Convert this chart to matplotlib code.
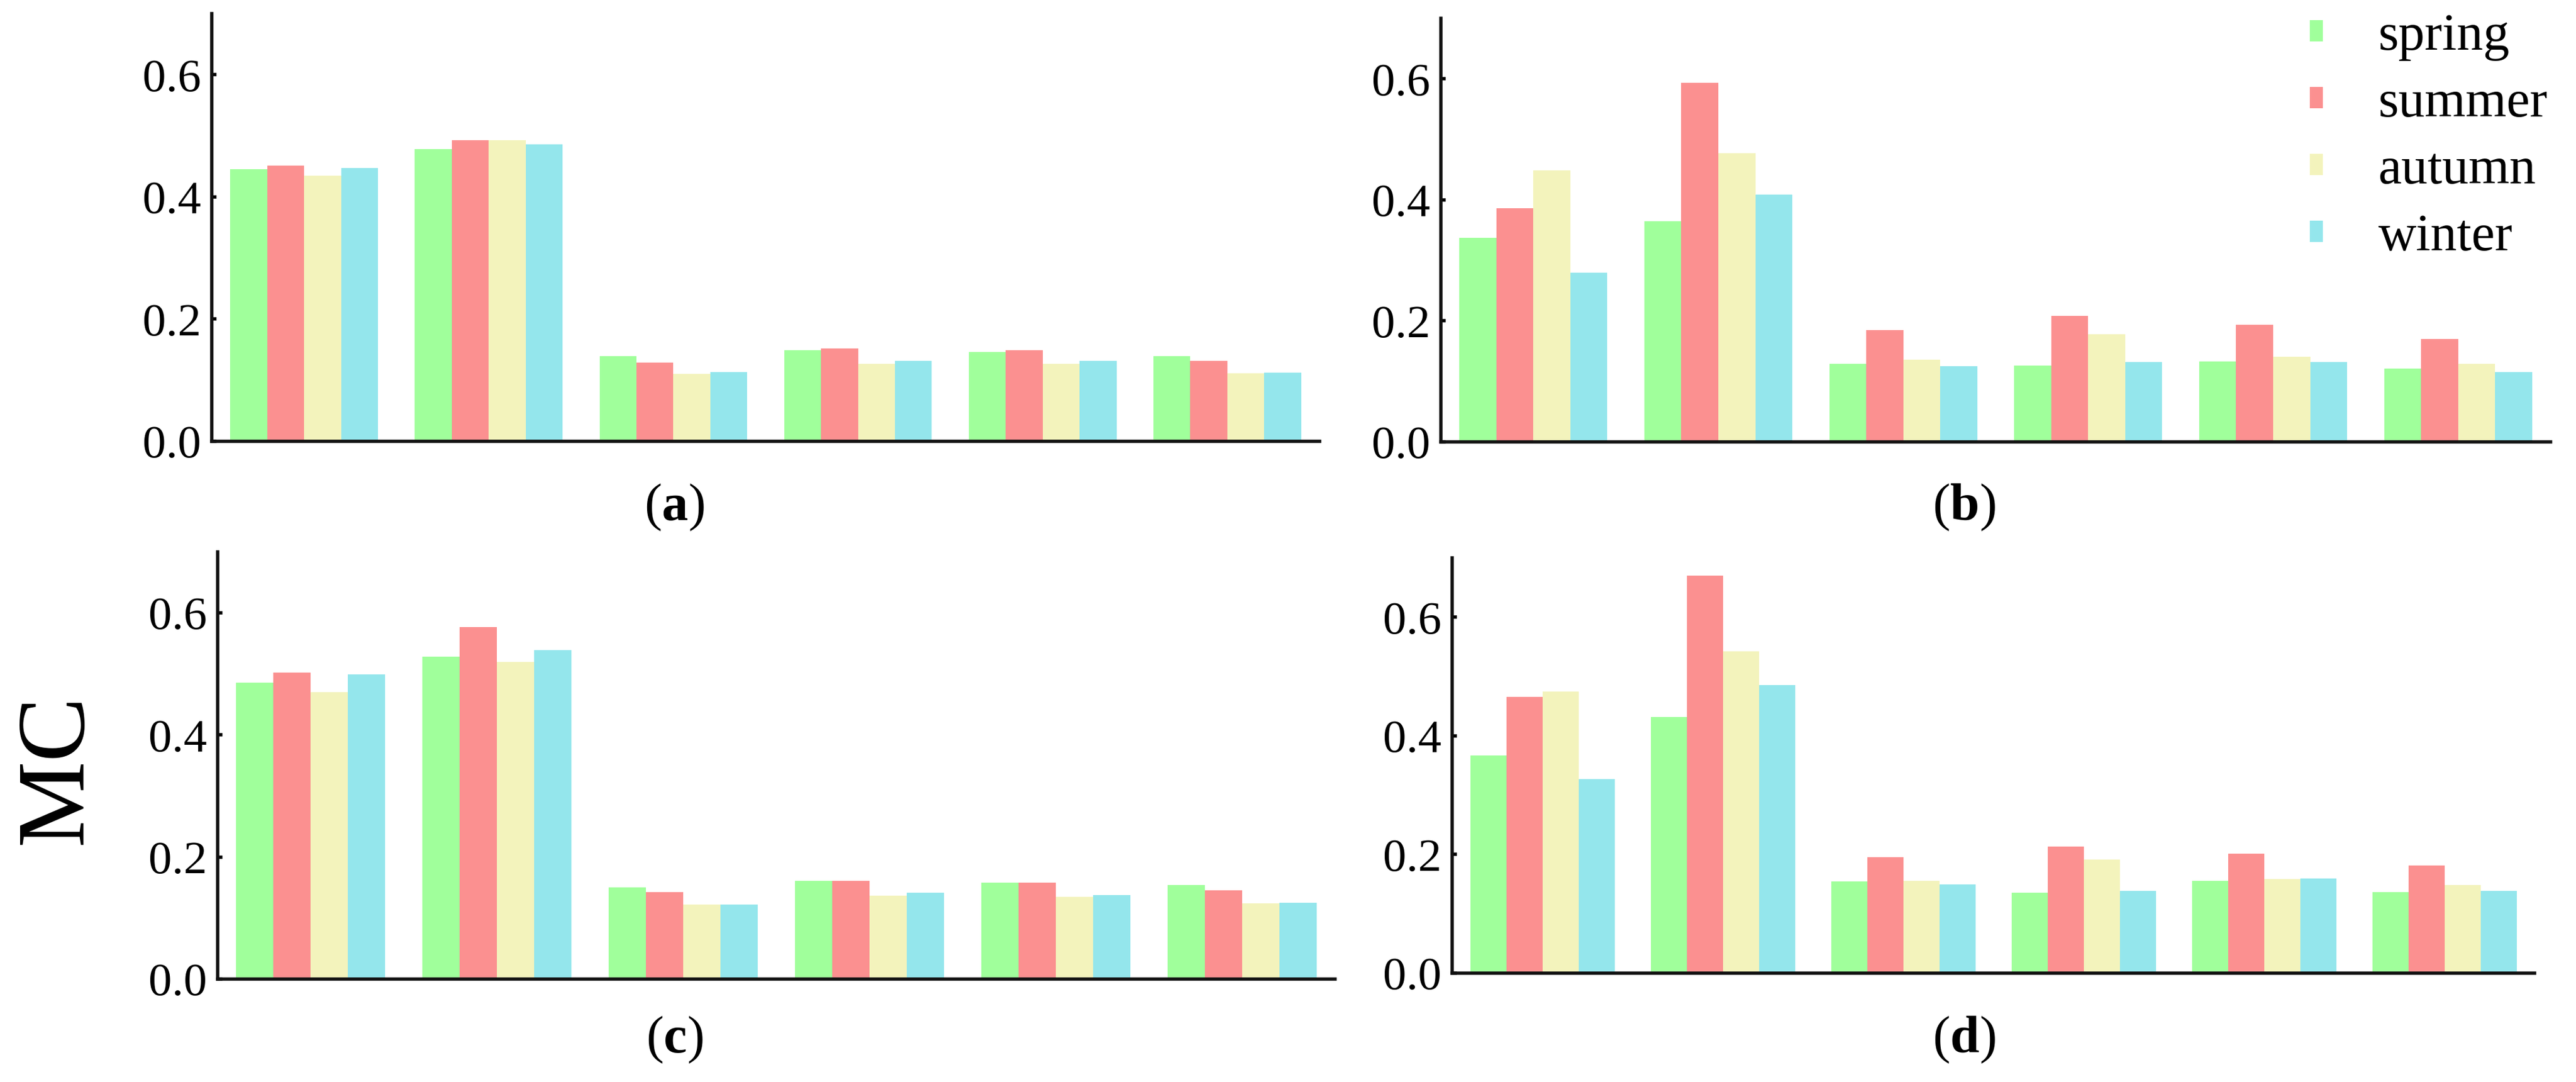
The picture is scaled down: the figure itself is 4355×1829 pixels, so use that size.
import matplotlib
matplotlib.use("Agg")
import matplotlib.pyplot as plt
import numpy as np

plt.rcParams['font.family'] = ['Liberation Serif', 'DejaVu Serif']
plt.rcParams['mathtext.fontset'] = 'custom'
plt.rcParams['mathtext.rm'] = 'Liberation Serif'
plt.rcParams['mathtext.bf'] = 'Liberation Serif:bold'

seasons = ["spring", "summer", "autumn", "winter"]
colors = ["#A0FF9B", "#FB9090", "#F3F3BC", "#94E6EC"]
n_groups = 6

# values per panel: rows = seasons, columns = groups
panel_a = {
    "spring": [0.445, 0.478, 0.139, 0.149, 0.146, 0.139],
    "summer": [0.451, 0.493, 0.129, 0.152, 0.149, 0.132],
    "autumn": [0.435, 0.493, 0.110, 0.127, 0.127, 0.111],
    "winter": [0.447, 0.486, 0.113, 0.132, 0.132, 0.112],
}
panel_b = {
    "spring": [0.337, 0.365, 0.129, 0.126, 0.133, 0.121],
    "summer": [0.386, 0.593, 0.185, 0.208, 0.194, 0.170],
    "autumn": [0.449, 0.477, 0.136, 0.178, 0.141, 0.129],
    "winter": [0.280, 0.409, 0.125, 0.132, 0.132, 0.115],
}
panel_c = {
    "spring": [0.486, 0.528, 0.150, 0.161, 0.158, 0.154],
    "summer": [0.502, 0.577, 0.143, 0.161, 0.158, 0.145],
    "autumn": [0.470, 0.520, 0.122, 0.137, 0.135, 0.124],
    "winter": [0.499, 0.539, 0.122, 0.142, 0.138, 0.125],
}
panel_d = {
    "spring": [0.367, 0.432, 0.155, 0.136, 0.156, 0.137],
    "summer": [0.466, 0.670, 0.195, 0.213, 0.201, 0.181],
    "autumn": [0.475, 0.542, 0.156, 0.191, 0.159, 0.149],
    "winter": [0.327, 0.486, 0.150, 0.139, 0.160, 0.139],
}
panel_labels = ["a", "b", "c", "d"]
yticks = [0.0, 0.2, 0.4, 0.6]
y_label = "MC"

W, H = 4355, 1829
fig = plt.figure(figsize=(W / 100, H / 100), dpi=100)

# axes rectangles in pixels: (left, right, top, bottom)
rects = [
    (358, 2231, 23, 746),
    (2436, 4312, 31, 747),
    (368, 2257, 933, 1655),
    (2455, 4285, 943, 1645),
]
label_pos = [(1140, 858), (3320, 858), (1140, 1758), (3320, 1758)]

panels = [panel_a, panel_b, panel_c, panel_d]
axes = []
x = np.arange(n_groups)
bw = 0.2
for i, (data, (l, r, t, b)) in enumerate(zip(panels, rects)):
    ax = fig.add_axes([l / W, 1 - b / H, (r - l) / W, (b - t) / H])
    axes.append(ax)
    for k, s in enumerate(seasons):
        ax.bar(x + (k - 1.5) * bw, data[s], width=bw, color=colors[k],
               edgecolor='none', linewidth=0, label=s)
    ax.set_xlim(-0.5, n_groups - 0.5)
    ax.set_ylim(0, 0.7)
    ax.set_yticks(yticks)
    ax.set_yticklabels([f"{v:.1f}" for v in yticks])
    ax.set_xticks([])
    for sp in ["top", "right"]:
        ax.spines[sp].set_visible(False)
    for sp in ["left", "bottom"]:
        ax.spines[sp].set_linewidth(4)
        ax.spines[sp].set_color("#111111")
    ax.tick_params(axis='y', direction='in', length=6, width=4,
                   labelsize=57, pad=13)
    lx, ly = label_pos[i]
    fig.text(lx / W, 1 - ly / H, r"($\mathbf{%s}$)" % panel_labels[i],
             ha='center', va='center', fontsize=64)

# shared y label "MC" placed left of panel (c)
fig.text(98 / W, 1 - 1300 / H, y_label, rotation=90, ha='center',
         va='center', fontsize=118)

handles, labels = axes[1].get_legend_handles_labels()
fig.legend(handles, labels, loc='upper left',
           bbox_to_anchor=(3905 / W, 1 - 22 / H), frameon=False,
           fontsize=64, handlelength=0.25, handleheight=0.25,
           handletextpad=1.05, labelspacing=0.36, borderpad=0, borderaxespad=0)

fig.savefig("out.png", dpi=100)
